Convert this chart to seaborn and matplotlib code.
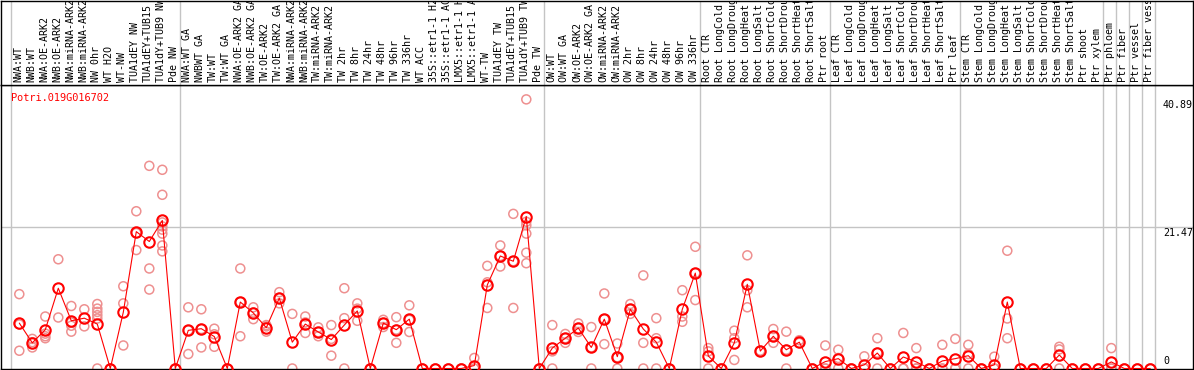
import numpy as np
import pandas as pd
import matplotlib
matplotlib.use('Agg')
import matplotlib.pyplot as plt
import matplotlib.transforms as mtransforms
import seaborn as sns

gene = 'Potri.019G016702'

samples = [
    'NWA:WT', 'NWB:WT', 'NWA:OE-ARK2', 'NWB:OE-ARK2', 'NWA:miRNA-ARK2', 'NWB:miRNA-ARK2',
    'NW 0hr', 'WT H2O', 'WT-NW', 'TUA1dEY NW', 'TUA1dEY+TUB15', 'TUA1dY+TUB9 NW', 'Pde NW',
    'NWA:WT GA', 'NWBWT GA', 'TW:WT', 'TW:WT GA', 'NWA:OE-ARK2 GA', 'NWB:OE-ARK2 GA',
    'TW:OE-ARK2', 'TW:OE-ARK2 GA', 'NWA:miRNA-ARK2', 'NWB:miRNA-ARK2', 'TW:miRNA-ARK2',
    'TW:miRNA-ARK2', 'TW 2hr', 'TW 8hr', 'TW 24hr', 'TW 48hr', 'TW 96hr', 'TW 336hr',
    'WT ACC', '35S::etr1-1 H2', '35S::etr1-1 AC', 'LMX5::etr1-1 H', 'LMX5::etr1-1 A',
    'WT-TW', 'TUA1dEY TW', 'TUA1dEY+TUB15', 'TUA1dY+TUB9 TW', 'Pde TW',
    'OW:WT', 'OW:WT GA', 'OW:OE-ARK2', 'OW:OE-ARK2 GA', 'OW:miRNA-ARK2', 'OW:miRNA-ARK2',
    'OW 2hr', 'OW 8hr', 'OW 24hr', 'OW 48hr', 'OW 96hr', 'OW 336hr',
    'Root CTR', 'Root LongCold', 'Root LongDroug', 'Root LongHeat', 'Root LongSalt',
    'Root ShortCold', 'Root ShortDrou', 'Root ShortHeat', 'Root ShortSalt', 'Ptr root',
    'Leaf CTR', 'Leaf LongCold', 'Leaf LongDroug', 'Leaf LongHeat', 'Leaf LongSalt',
    'Leaf ShortCold', 'Leaf ShortDrou', 'Leaf ShortHeat', 'Leaf ShortSalt', 'Ptr leaf',
    'Stem CTR', 'Stem LongCold', 'Stem LongDroug', 'Stem LongHeat', 'Stem LongSalt',
    'Stem ShortCold', 'Stem ShortDrou', 'Stem ShortHeat', 'Stem ShortSalt', 'Ptr shoot',
    'Ptr xylem', 'Ptr phloem', 'Ptr fiber', 'Ptr vessel', 'Ptr fiber vess',
]
group_sizes = [13, 28, 12, 10, 10, 11, 1, 1, 1, 1]

means = [
    6.9, 3.9, 5.9, 12.2, 7.25, 7.65, 6.75, 0, 8.55, 20.8, 19.3, 22.5, 0,
    5.8, 6.05, 4.85, 0, 10.1, 8.45, 6.2, 10.7, 4.0, 6.75, 5.55, 4.4, 6.6, 8.75, 0,
    6.9, 5.9, 7.5, 0, 0, 0, 0, 0.45, 12.7, 17.1, 16.3, 23.1, 0,
    3.1, 4.6, 6.15, 3.2, 7.5, 1.8, 9.0, 6.0, 4.0, 0, 9.0, 14.5,
    1.9, 0, 3.9, 12.8, 2.65, 4.9, 2.85, 4.0, 0, 1.05,
    1.5, 0, 0.55, 2.35, 0, 1.75, 1.0, 0, 1.15, 1.5,
    1.95, 0, 0.55, 10.1, 0, 0, 0, 2.05, 0, 0, 0,
    1.0, 0, 0, 0,
]

replicates = [
    [11.3, 6.7, 2.7], [4.5, 4.0, 3.2], [7.9, 5.3, 4.9, 4.6], [16.6, 7.75],
    [9.5, 7.0, 6.5, 5.6], [9.0, 6.4], [9.8, 9.1, 8.6, 8.1, 7.6, 0], [0, 0],
    [12.5, 9.9, 3.5], [23.9, 20.6, 18.0], [30.8, 15.2, 12.0],
    [30.2, 26.4, 22.2, 21.6, 21.1, 20.5, 18.7, 17.8], [0, 0],
    [9.3, 5.8, 2.2], [9.0, 6.0, 3.2], [6.05, 5.2, 3.3], [0, 0], [15.2, 10.1, 4.9],
    [9.3, 8.5, 7.5], [6.6, 6.4, 5.6], [11.6, 10.7, 9.9], [8.3, 0], [7.9, 7.0, 5.4],
    [6.25, 5.5, 4.9], [6.6, 4.5, 1.95], [12.2, 7.65, 0], [9.9, 9.1, 7.25], [0, 0],
    [7.4, 6.9, 6.3], [7.8, 5.9, 3.9], [9.6, 7.4, 5.55], [0, 0], [0, 0], [0, 0], [0, 0],
    [1.6, 0, 0], [15.6, 13.1, 9.2], [18.7, 17.1, 15.5], [23.5, 16.3, 9.2],
    [40.9, 22.3, 21.75, 20.5, 17.6, 16.0], [0, 0],
    [6.6, 2.6, 0], [5.25, 4.6, 3.9], [6.85, 6.1, 5.55], [6.3, 3.2, 0], [11.4, 7.5, 3.7],
    [3.8, 1.7, 0], [9.8, 9.0, 8.3], [14.15, 3.9, 0], [7.65, 4.6, 0], [0, 0],
    [11.9, 7.9, 7.1], [18.5, 14.5, 10.4],
    [3.1, 2.6, 0], [0, 0], [5.75, 4.6, 1.3], [17.2, 11.9, 9.3], [2.7, 2.6],
    [6.0, 4.9, 3.9], [5.6, 2.85, 0], [4.3, 3.9], [0, 0], [3.5, 0, 0],
    [2.85, 1.6, 0], [0, 0], [1.85, 0, 0], [4.6, 2.4, 0], [0, 0], [5.4, 0, 0],
    [3.1, 0, 0], [0, 0], [3.6, 0, 0], [4.5, 0, 0],
    [3.6, 2.2, 0], [0, 0], [1.8, 0, 0], [17.9, 7.6, 4.6], [0, 0], [0, 0], [0, 0],
    [3.3, 2.9, 0], [0, 0], [0, 0], [0, 0],
    [3.1, 0, 0], [0, 0], [0, 0], [0, 0],
]

y_ticks = [0, 21.47, 40.89]
y_tick_labels = ['0', '21.47', '40.89']

# long form tables
rep_rows = [(i, v) for i, vals in enumerate(replicates) for v in vals]
df_rep = pd.DataFrame(rep_rows, columns=['idx', 'value'])
df_mean = pd.DataFrame({'idx': np.arange(len(samples)), 'value': means})

sns.set_theme(style='white')
plt.rcParams['font.family'] = ['DejaVu Sans Mono']
plt.rcParams['font.size'] = 7.2

W, H = 1194, 370
fig = plt.figure(figsize=(W / 100, H / 100), dpi=100)
bottom_px, top_px = 368.5, 85
ax = fig.add_axes([1 / W, (H - bottom_px) / H, 1192 / W, (bottom_px - top_px) / H])
ax_lab = fig.add_axes([1 / W, (H - top_px) / H, 1192 / W, (top_px - 0.5) / H], sharex=ax)

# one category every 13 px, first one 19 px from the left edge
x0, step = 19.3, 13.0
ax.set_xlim((1 - x0) / step, (1193 - x0) / step)
ax.set_ylim(0, (bottom_px - top_px) / 6.58)
ax_lab.set_ylim(0, 1)

grid_c = '#c4c4c4'
ax.axhline(y_ticks[1], color=grid_c, lw=1, zorder=0)
bounds = [-0.65] + list(np.cumsum(group_sizes) - 1 + 0.36)
for b in bounds:
    ax.axvline(b, color=grid_c, lw=1, zorder=0)
    ax_lab.axvline(b, color=grid_c, lw=1, zorder=0)

sns.scatterplot(data=df_rep, x='idx', y='value', ax=ax, marker='o', s=42,
                facecolor='none', edgecolor='#ee9090', linewidth=1.1, zorder=2, legend=False)
sns.lineplot(data=df_mean, x='idx', y='value', ax=ax, color='#ff0000', lw=0.8,
             marker='o', markersize=7.5, markerfacecolor='none', markeredgecolor='#ff0000',
             markeredgewidth=1.5, zorder=3)

trans = mtransforms.blended_transform_factory(ax.transData, ax.transAxes)
ax.text(-0.62, 0.972, gene, transform=trans, color='#ff0000',
        ha='left', va='top', fontsize=7.4)

tick_x = (1163 - x0) / step
for v, lab in zip(y_ticks, y_tick_labels):
    if v == 0:
        ax.annotate(lab, xy=(tick_x, v), xytext=(0, 3), textcoords='offset pixels',
                    ha='left', va='bottom', fontsize=7.2, color='black')
    else:
        ax.annotate(lab, xy=(tick_x, v), xytext=(0, -1), textcoords='offset pixels',
                    ha='left', va='top', fontsize=7.2, color='black')

for i, s in enumerate(samples):
    ax_lab.text(i - 0.1, 0.03, s, rotation=90, ha='center', va='bottom',
                fontsize=7.2, color='black', clip_on=True)

for a in (ax, ax_lab):
    a.set_xlabel('')
    a.set_ylabel('')
    a.set_xticks([])
    a.set_yticks([])
    for sp in a.spines.values():
        sp.set_color('black')
        sp.set_linewidth(1)
        sp.set_visible(True)

fig.savefig('out.png', dpi=100)
